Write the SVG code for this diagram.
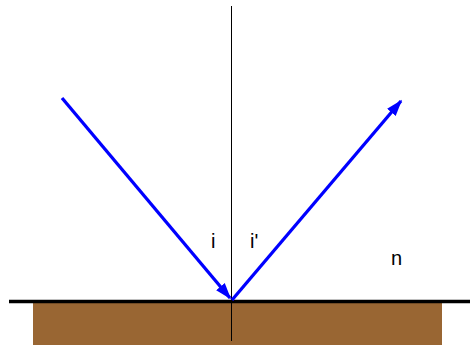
<svg xmlns="http://www.w3.org/2000/svg" width="470" height="345" viewBox="0 0 470 345">
<style>
.ray{stroke:#0000ff;stroke-width:3.3;fill:none;marker-end:url(#ah)}
.lbl{font-family:"Liberation Sans",Arial,sans-serif;font-size:20px;fill:#000}
</style>
<defs>
<marker id="ah" markerWidth="5" markerHeight="4" refX="4.5" refY="2" orient="auto" markerUnits="strokeWidth">
<path d="M0,0.3 L5,2 L0,3.7 Z" fill="#0000ff"/>
</marker>
</defs>
<rect width="470" height="345" fill="#fff"/>
<g id="ground">
<rect x="33" y="303" width="409" height="42" fill="#996633"/>
<line x1="9" y1="301.5" x2="470" y2="301.5" stroke="#000" stroke-width="3.5"/>
</g>
<g id="normal">
<line x1="231.5" y1="6" x2="231.5" y2="341" stroke="#000" stroke-width="1"/>
</g>
<g id="connectors">
<line class="ray" x1="62" y1="98" x2="230" y2="298"/>
<line class="ray" x1="232" y1="300" x2="401" y2="101"/>
</g>
<g id="labels">
<text class="lbl" x="211" y="248">i</text>
<text class="lbl" x="250" y="248">i'</text>
<text class="lbl" x="391" y="265">n</text>
</g>
</svg>
